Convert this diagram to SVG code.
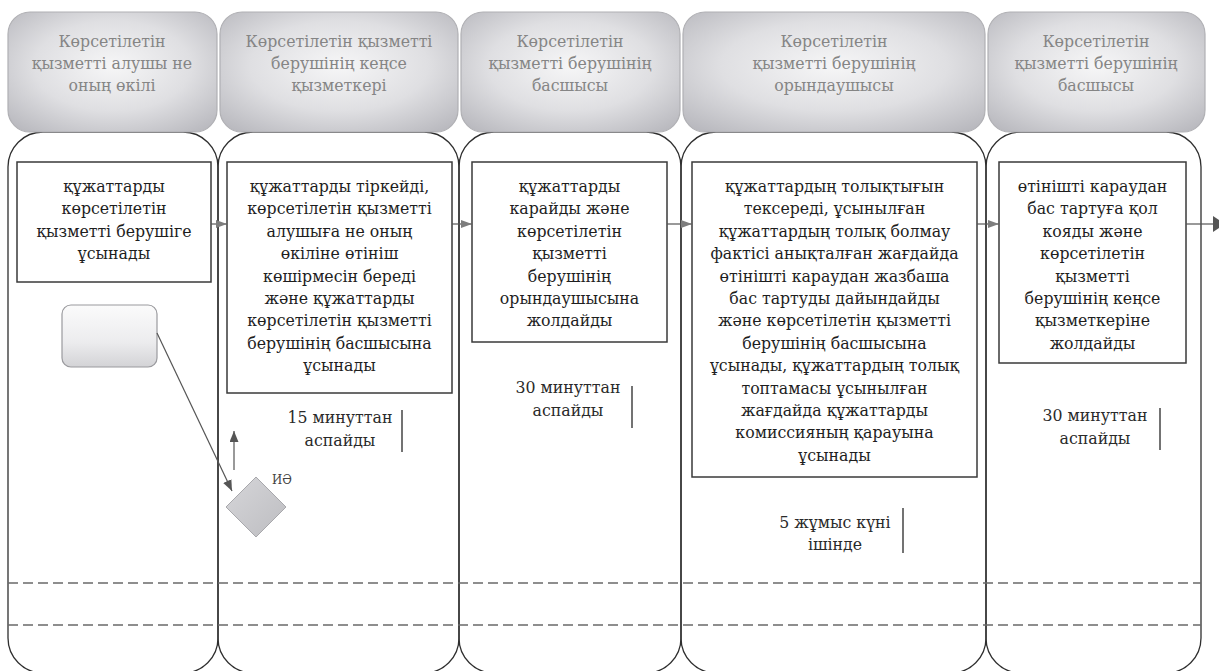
<svg xmlns="http://www.w3.org/2000/svg" width="1219" height="671" viewBox="0 0 1219 671">
<defs>
<radialGradient id="cardg" cx="50%" cy="45%" r="75%">
<stop offset="0" stop-color="#f6f6f7"/>
<stop offset="0.5" stop-color="#dfdfe2"/>
<stop offset="1" stop-color="#b2b2b8"/>
</radialGradient>
<linearGradient id="smallg" x1="0" y1="0" x2="0" y2="1">
<stop offset="0" stop-color="#fbfbfb"/>
<stop offset="0.6" stop-color="#ececee"/>
<stop offset="1" stop-color="#d3d3d6"/>
</linearGradient>
<linearGradient id="diag" x1="0" y1="0" x2="1" y2="1">
<stop offset="0" stop-color="#d6d6d9"/>
<stop offset="1" stop-color="#bdbdc1"/>
</linearGradient>
<marker id="ah" markerWidth="11" markerHeight="8" refX="11" refY="4" orient="auto" markerUnits="userSpaceOnUse">
<path d="M0,0 L11,4 L0,8 z" fill="#7d7d7d"/>
</marker>
<marker id="ahd" markerWidth="11" markerHeight="9" refX="11" refY="4.5" orient="auto" markerUnits="userSpaceOnUse">
<path d="M0,0 L11,4.5 L0,9 z" fill="#555"/>
</marker>
</defs>
<style>
.lane{fill:none;stroke:#2f2f2f;stroke-width:1.3}
.card{fill:url(#cardg);stroke:#b0b0b4;stroke-width:1.2}
.ht{font-size:17.5px;fill:#858585;text-anchor:middle}
.box{fill:#fff;stroke:#3a3a3a;stroke-width:1.5}
.bt{font-size:17.5px;fill:#1e1e1e;text-anchor:middle}
.tt{font-size:17.5px;fill:#2a2a2a;text-anchor:middle}
.bar{stroke:#444;stroke-width:1.5}
.dash{stroke:#6a6a6a;stroke-width:1.3;stroke-dasharray:10 5;fill:none}
.flow{stroke:#555;stroke-width:1.2;fill:none}
.serif{font-family:"DejaVu Serif Condensed","DejaVu Serif",serif;font-stretch:condensed}
</style>
<rect width="1219" height="671" fill="#ffffff"/>

<g id="lanes">
<path class="lane" d="M8,167 A35,35 0 0 1 43,132 L183,132 A35,35 0 0 1 218,167 L218,638 A35,35 0 0 1 183,673 L43,673 A35,35 0 0 1 8,638 Z"/>
<path class="lane" d="M218,167 A35,35 0 0 1 253,132 L424,132 A35,35 0 0 1 459,167 L459,638 A35,35 0 0 1 424,673 L253,673 A35,35 0 0 1 218,638 Z"/>
<path class="lane" d="M459,167 A35,35 0 0 1 494,132 L646,132 A35,35 0 0 1 681,167 L681,638 A35,35 0 0 1 646,673 L494,673 A35,35 0 0 1 459,638 Z"/>
<path class="lane" d="M681,167 A35,35 0 0 1 716,132 L951,132 A35,35 0 0 1 986,167 L986,638 A35,35 0 0 1 951,673 L716,673 A35,35 0 0 1 681,638 Z"/>
<path class="lane" d="M986,167 A35,35 0 0 1 1021,132 L1166,132 A35,35 0 0 1 1201,167 L1201,638 A35,35 0 0 1 1166,673 L1021,673 A35,35 0 0 1 986,638 Z"/>
</g>

<g id="separators">
<line class="dash" x1="8" y1="583" x2="1201" y2="583"/>
<line class="dash" x1="8" y1="625" x2="1201" y2="625"/>
</g>

<g id="headers" class="serif">
<g id="header1">
<rect class="card" x="8" y="12" width="209" height="120" rx="22"/>
<text class="ht" x="112" y="47">Көрсетілетін</text>
<text class="ht" x="112" y="69">қызметті алушы не</text>
<text class="ht" x="112" y="91">оның өкілі</text>
</g>
<g id="header2">
<rect class="card" x="220" y="12" width="238" height="120" rx="22"/>
<text class="ht" x="339" y="47">Көрсетілетін қызметті</text>
<text class="ht" x="339" y="69">берушінің кеңсе</text>
<text class="ht" x="339" y="91">қызметкері</text>
</g>
<g id="header3">
<rect class="card" x="461" y="12" width="219" height="120" rx="22"/>
<text class="ht" x="570" y="47">Көрсетілетін</text>
<text class="ht" x="570" y="69">қызметті берушінің</text>
<text class="ht" x="570" y="91">басшысы</text>
</g>
<g id="header4">
<rect class="card" x="683" y="12" width="302" height="120" rx="22"/>
<text class="ht" x="834" y="47">Көрсетілетін</text>
<text class="ht" x="834" y="69">қызметті берушінің</text>
<text class="ht" x="834" y="91">орындаушысы</text>
</g>
<g id="header5">
<rect class="card" x="988" y="12" width="217" height="120" rx="22"/>
<text class="ht" x="1096" y="47">Көрсетілетін</text>
<text class="ht" x="1096" y="69">қызметті берушінің</text>
<text class="ht" x="1096" y="91">басшысы</text>
</g>
</g>

<g id="steps" class="serif">
<g id="step1">
<rect class="box" x="17" y="162" width="194" height="120"/>
<text class="bt" x="114" y="192">құжаттарды</text>
<text class="bt" x="114" y="214.4">көрсетілетін</text>
<text class="bt" x="114" y="236.8">қызметті берушіге</text>
<text class="bt" x="114" y="259.2">ұсынады</text>
</g>

<g id="step2">
<rect class="box" x="227" y="162" width="225" height="231"/>
<text class="bt" x="339.5" y="192">құжаттарды тіркейді,</text>
<text class="bt" x="339.5" y="214.4">көрсетілетін қызметті</text>
<text class="bt" x="339.5" y="236.8">алушыға не оның</text>
<text class="bt" x="339.5" y="259.2">өкіліне өтініш</text>
<text class="bt" x="339.5" y="281.6">көшірмесін береді</text>
<text class="bt" x="339.5" y="304">және құжаттарды</text>
<text class="bt" x="339.5" y="326.4">көрсетілетін қызметті</text>
<text class="bt" x="339.5" y="348.8">берушінің  басшысына</text>
<text class="bt" x="339.5" y="371.2">ұсынады</text>
</g>

<g id="step3">
<rect class="box" x="472" y="162" width="195" height="180"/>
<text class="bt" x="569.5" y="192">құжаттарды</text>
<text class="bt" x="569.5" y="214.4">карайды және</text>
<text class="bt" x="569.5" y="236.8">көрсетілетін</text>
<text class="bt" x="569.5" y="259.2">қызметті</text>
<text class="bt" x="569.5" y="281.6">берушінің</text>
<text class="bt" x="569.5" y="304">орындаушысына</text>
<text class="bt" x="569.5" y="326.4">жолдайды</text>
</g>

<g id="step4">
<rect class="box" x="692" y="162" width="285" height="315"/>
<text class="bt" x="834.5" y="192">құжаттардың толықтығын</text>
<text class="bt" x="834.5" y="214.4">тексереді, ұсынылған</text>
<text class="bt" x="834.5" y="236.8">құжаттардың толық болмау</text>
<text class="bt" x="834.5" y="259.2">фактісі анықталған жағдайда</text>
<text class="bt" x="834.5" y="281.6">өтінішті караудан жазбаша</text>
<text class="bt" x="834.5" y="304">бас тартуды дайындайды</text>
<text class="bt" x="834.5" y="326.4">және көрсетілетін қызметті</text>
<text class="bt" x="834.5" y="348.8">берушінің басшысына</text>
<text class="bt" x="834.5" y="371.2">ұсынады, құжаттардың толық</text>
<text class="bt" x="834.5" y="393.6">топтамасы ұсынылған</text>
<text class="bt" x="834.5" y="416">жағдайда құжаттарды</text>
<text class="bt" x="834.5" y="438.4">комиссияның  қарауына</text>
<text class="bt" x="834.5" y="460.8">ұсынады</text>
</g>

<g id="step5">
<rect class="box" x="999" y="162" width="187" height="201"/>
<text class="bt" x="1092.5" y="192">өтінішті караудан</text>
<text class="bt" x="1092.5" y="214.4">бас тартуға қол</text>
<text class="bt" x="1092.5" y="236.8">кояды және</text>
<text class="bt" x="1092.5" y="259.2">көрсетілетін</text>
<text class="bt" x="1092.5" y="281.6">қызметті</text>
<text class="bt" x="1092.5" y="304">берушінің кеңсе</text>
<text class="bt" x="1092.5" y="326.4">қызметкеріне</text>
<text class="bt" x="1092.5" y="348.8">жолдайды</text>
</g>
</g>

<g id="start">
<rect x="62" y="305" width="95" height="62" rx="9" fill="url(#smallg)" stroke="#9a9a9e" stroke-width="1.2"/>
</g>

<g id="decision">
<polygon points="256,477 286,507 256,537 226,507" fill="url(#diag)" stroke="#a8a8ac" stroke-width="1"/>
<text class="serif" x="272" y="484" font-size="13px" fill="#444">ИӘ</text>
</g>

<g id="times" class="serif">
<g id="time1">
<text class="tt" x="340" y="423">15 минуттан</text>
<text class="tt" x="340" y="446">аспайды</text>
<line class="bar" x1="402" y1="410" x2="402" y2="452"/>
</g>
<g id="time2">
<text class="tt" x="568" y="393">30 минуттан</text>
<text class="tt" x="568" y="416">аспайды</text>
<line class="bar" x1="632" y1="386" x2="632" y2="428"/>
</g>
<g id="time3">
<text class="tt" x="835" y="528">5 жұмыс күні</text>
<text class="tt" x="835" y="550">ішінде</text>
<line class="bar" x1="903" y1="508" x2="903" y2="553"/>
</g>
<g id="time4">
<text class="tt" x="1095" y="421">30 минуттан</text>
<text class="tt" x="1095" y="444">аспайды</text>
<line class="bar" x1="1160" y1="408" x2="1160" y2="450"/>
</g>
</g>

<g id="connectors">
<line class="flow" x1="211" y1="224" x2="227" y2="224" marker-end="url(#ah)"/>
<line class="flow" x1="452" y1="224" x2="472" y2="224" marker-end="url(#ah)"/>
<line class="flow" x1="667" y1="224" x2="692" y2="224" marker-end="url(#ah)"/>
<line class="flow" x1="977" y1="224" x2="999" y2="224" marker-end="url(#ah)"/>
<line class="flow" x1="1186" y1="224" x2="1214" y2="224"/>
<polygon points="1213,216 1225,224 1213,232" fill="#555"/>
<line class="flow" x1="157" y1="333" x2="232" y2="491" marker-end="url(#ahd)"/>
<line class="flow" x1="234" y1="470" x2="234" y2="431" marker-end="url(#ahd)"/>
</g>
</svg>
